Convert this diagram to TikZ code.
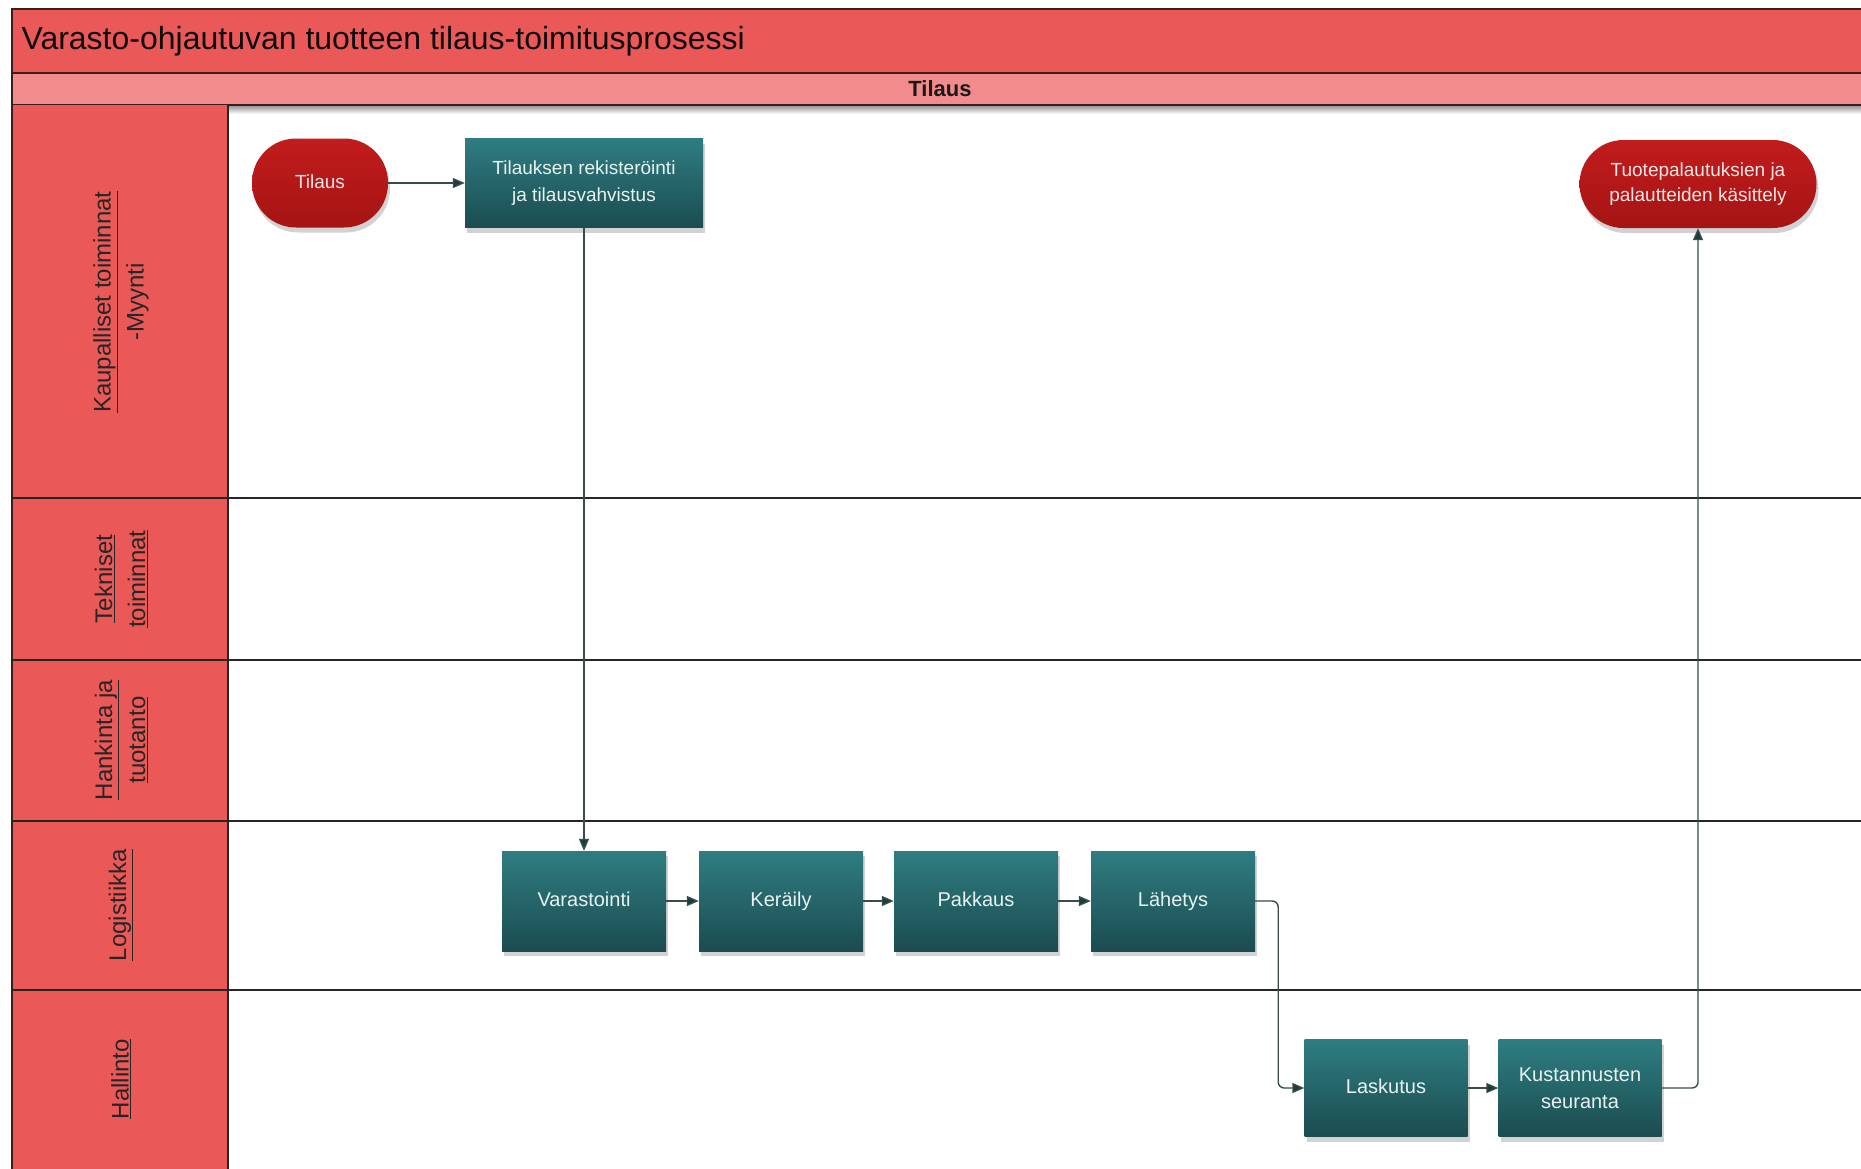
\documentclass[tikz,border=0pt]{standalone}
\usepackage{fontspec}
\setmainfont{Liberation Sans}
\usetikzlibrary{arrows.meta,shadows}

\definecolor{bandred}{HTML}{EB5858}
\definecolor{bandpink}{HTML}{F28C8C}
\definecolor{framedark}{HTML}{3A1E1E}
\definecolor{termtop}{HTML}{C21C1C}
\definecolor{termbot}{HTML}{A51414}
\definecolor{tealtop}{HTML}{2F7D81}
\definecolor{tealbot}{HTML}{1B4C50}
\definecolor{linkgray}{HTML}{3B4A4A}
\definecolor{boxtext}{HTML}{E8F3F3}
\definecolor{termtext}{HTML}{F6E6E6}

\begin{document}
\begin{tikzpicture}[x=1pt,y=-1pt,
  process/.style={rectangle, draw=none, top color=tealtop, bottom color=tealbot,
    text=boxtext, align=center, font=\fontsize{20}{25}\selectfont,
    minimum width=164pt, minimum height=100pt, inner sep=2pt,
    drop shadow={shadow xshift=2pt, shadow yshift=-5pt, opacity=0.35}},
  oneline/.style={text height=14pt, text depth=4pt},
  terminal/.style={rectangle, rounded corners=44pt, draw=none,
    top color=termtop, bottom color=termbot, text=termtext, align=center,
    font=\fontsize{19}{25}\selectfont, minimum height=89pt, inner sep=2pt,
    drop shadow={shadow xshift=2pt, shadow yshift=-5pt, opacity=0.35}},
  lanelabel/.style={rotate=90, align=center, text=black!85,
    font=\fontsize{24}{33}\selectfont},
  lanesep/.style={draw=black!85, line width=1.8pt},
  link/.style={draw=linkgray, line width=1.4pt,
    -{Triangle[length=12pt,width=10pt,fill=tealbot!80!black]}}
]
\useasboundingbox (0,0) rectangle (1861,1168);
\clip (0,0) rectangle (1861,1168);
\fill[white] (0,0) rectangle (1861,1168);

% title band and phase band
\draw[fill=bandred, draw=framedark, line width=2pt] (12,9) rectangle (1880,73);
\shade[top color=black!45, bottom color=white] (228,105) rectangle (1880,114);
\draw[fill=bandpink, draw=framedark, line width=2pt] (12,73) rectangle (1880,105);
\node[anchor=west, text=black!95, font=\fontsize{32}{38}\selectfont] (title) at (18,41)
  {Varasto-ohjautuvan tuotteen tilaus-toimitusprosessi};
\node[font=\fontsize{22}{26}\selectfont\bfseries, text=black!90] (phase) at (940,89) {Tilaus};

% lane header column
\fill[bandred] (12,105) rectangle (228,1190);
\draw[framedark, line width=2pt] (12,105) -- (12,1190);
\draw[black!85, line width=1.8pt] (228,105) -- (228,1190);

% lane separators
\draw[lanesep] (12,498) -- (1880,498);
\draw[lanesep] (12,660) -- (1880,660);
\draw[lanesep] (12,821) -- (1880,821);
\draw[lanesep] (12,990) -- (1880,990);

% lane labels
\node[lanelabel] (l1) at (121,302) {\underline{Kaupalliset toiminnat}\\-Myynti};
\node[lanelabel] (l2) at (121,579) {\underline{Tekniset}\\\underline{toiminnat}};
\node[lanelabel] (l3) at (121,740) {\underline{Hankinta ja}\\\underline{tuotanto}};
\node[lanelabel] (l4) at (121,905) {\underline{Logistiikka}};
\node[lanelabel] (l5) at (121,1079) {\underline{Hallinto}};

% process steps
\node[terminal, oneline, minimum width=136pt] (tilaus) at (320,183) {Tilaus};
\node[process, minimum width=238pt, minimum height=89pt, font=\fontsize{19}{27}\selectfont]
  (reg) at (584,183) {Tilauksen rekisteröinti\\ja tilausvahvistus};
\node[terminal, minimum width=237pt, minimum height=88pt] (palaute) at (1698,184)
  {Tuotepalautuksien ja\\palautteiden käsittely};

\node[process, oneline] (varast) at (584,901) {Varastointi};
\node[process, oneline] (kerail) at (781,901) {Keräily};
\node[process, oneline] (pakk)   at (976,901) {Pakkaus};
\node[process, oneline] (lahet)  at (1173,901) {Lähetys};

\node[process, oneline, minimum width=163pt, minimum height=97pt] (lask) at (1386,1088) {Laskutus};
\node[process, minimum width=163pt, minimum height=97pt, font=\fontsize{20}{27}\selectfont]
  (kust) at (1580,1088) {Kustannusten\\seuranta};

% connectors
\draw[link] (tilaus) -- (reg);
\draw[link] (reg) -- (varast);
\draw[link] (varast) -- (kerail);
\draw[link] (kerail) -- (pakk);
\draw[link] (pakk) -- (lahet);
\draw[link, rounded corners=6pt] (lahet.east) -- ++(23,0) |- (lask.west);
\draw[link] (lask) -- (kust);
\draw[link, rounded corners=6pt] (kust.east) -| (palaute.south);
\end{tikzpicture}
\end{document}
